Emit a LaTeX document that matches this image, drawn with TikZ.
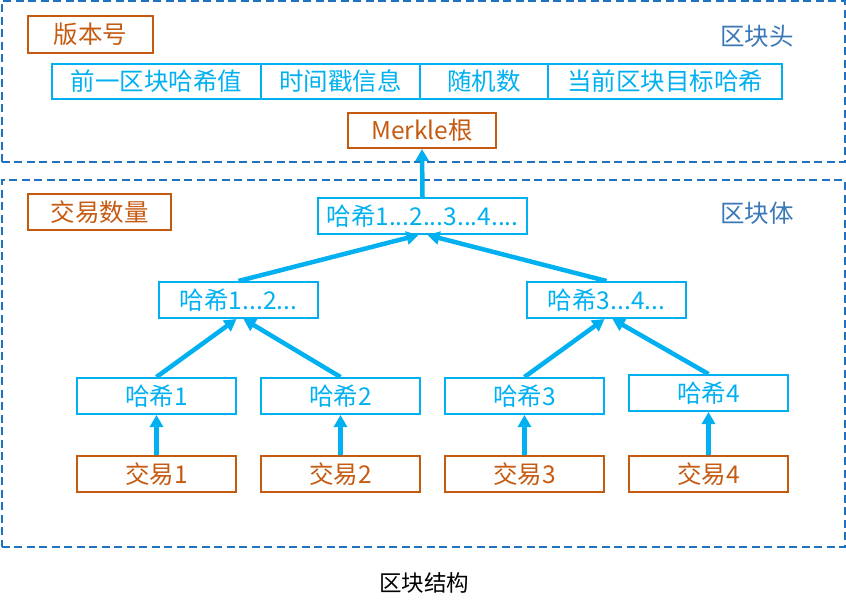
\documentclass[tikz,border=0pt]{standalone}
\usepackage{fontspec}
\setmainfont{Noto Sans CJK SC}
\usetikzlibrary{arrows.meta}
\definecolor{orng}{HTML}{C55A11}
\definecolor{cyn}{HTML}{00B0F0}
\definecolor{dblue}{HTML}{1F72C0}
\definecolor{lblue}{HTML}{3A78B8}
\begin{document}
\begin{tikzpicture}[x=1pt,y=-1pt,
  frame/.style={draw=dblue,line width=2pt,dash pattern=on 8pt off 4.5pt,inner sep=0pt},
  obox/.style={draw=orng,line width=2pt,text=orng,inner sep=0pt,font=\fontsize{24.5}{28}\selectfont},
  cbox/.style={draw=cyn,line width=2pt,text=cyn,inner sep=0pt,font=\fontsize{24.5}{28}\selectfont},
  lbl/.style={text=lblue,inner sep=0pt,font=\fontsize{24.5}{28}\selectfont},
  arr/.style={draw=cyn,line width=4.5pt,-{Triangle[length=12pt,width=13pt]}}]
\useasboundingbox (0,0) rectangle (846,611);
% frames
\node[frame,minimum width=843pt,minimum height=161pt] (head) at (423,81.5) {};
\node[frame,minimum width=843pt,minimum height=367pt] (body) at (423,363.5) {};
\node[lbl] (headlbl) at (757,36) {区块头};
\node[lbl] (bodylbl) at (757,213) {区块体};
% header
\node[obox,minimum width=125pt,minimum height=37pt] (ver) at (90.5,34.5) {版本号};
\node[cbox,minimum width=209pt,minimum height=35pt] (prev) at (156.5,81.5) {前一区块哈希值};
\node[cbox,minimum width=159pt,minimum height=35pt] (time) at (340.5,81.5) {时间戳信息};
\node[cbox,minimum width=128pt,minimum height=35pt] (nonce) at (484,81.5) {随机数};
\node[cbox,minimum width=234pt,minimum height=35pt] (target) at (665,81.5) {当前区块目标哈希};
\node[obox,minimum width=148pt,minimum height=35pt] (merkle) at (422,130.5) {Merkle根};
% body
\node[obox,minimum width=143pt,minimum height=36pt] (cnt) at (99.5,212) {交易数量};
\node[cbox,minimum width=209pt,minimum height=36pt] (h1234) at (422.5,216) {哈希1...2...3...4....};
\node[cbox,minimum width=159pt,minimum height=36pt] (h12) at (238.5,300) {哈希1...2...};
\node[cbox,minimum width=159pt,minimum height=36pt] (h34) at (606.5,300) {哈希3...4...};
\node[cbox,minimum width=159pt,minimum height=36pt] (h1) at (156.5,396) {哈希1};
\node[cbox,minimum width=159pt,minimum height=36pt] (h2) at (340.5,396) {哈希2};
\node[cbox,minimum width=159pt,minimum height=36pt] (h3) at (524.5,396) {哈希3};
\node[cbox,minimum width=159pt,minimum height=36pt] (h4) at (708.5,393) {哈希4};
\node[obox,minimum width=159pt,minimum height=36pt] (t1) at (156.5,474) {交易1};
\node[obox,minimum width=159pt,minimum height=36pt] (t2) at (340.5,474) {交易2};
\node[obox,minimum width=159pt,minimum height=36pt] (t3) at (524.5,474) {交易3};
\node[obox,minimum width=159pt,minimum height=36pt] (t4) at (708.5,474) {交易4};
\node[inner sep=0pt,font=\fontsize{22.5}{26}\selectfont] (cap) at (424,583) {区块结构};
% arrows
\draw[arr] (t1.north) -- (h1.south);
\draw[arr] (t2.north) -- (h2.south);
\draw[arr] (t3.north) -- (h3.south);
\draw[arr] (t4.north) -- (h4.south);
\draw[arr] (h1.north) -- ([xshift=-2pt]h12.south);
\draw[arr] (h2.north) -- ([xshift=5pt]h12.south);
\draw[arr] (h3.north) -- ([xshift=-2pt]h34.south);
\draw[arr] (h4.north) -- ([xshift=6pt]h34.south);
\draw[arr] (h12.north) -- ([xshift=-4pt]h1234.south);
\draw[arr] (h34.north) -- ([xshift=5pt]h1234.south);
\draw[arr] (h1234.north) -- (merkle.south);
\end{tikzpicture}
\end{document}
